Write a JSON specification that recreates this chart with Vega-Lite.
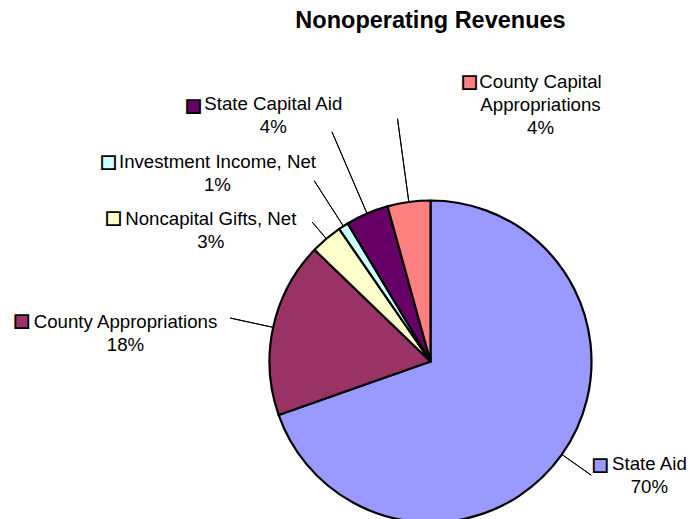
{
  "$schema": "https://vega.github.io/schema/vega-lite/v6.json",
  "autosize": "none",
  "width": 517,
  "height": 315,
  "padding": {"left": 172, "top": 204, "right": 0, "bottom": 0},
  "background": "white",
  "config": {"view": {"stroke": null}},
  "title": {
    "text": "Nonoperating Revenues",
    "font": "Liberation Sans",
    "fontSize": 23.5,
    "fontWeight": "bold",
    "color": "#000000",
    "anchor": "middle",
    "frame": "group",
    "offset": 40
  },
  "data": {
    "values": [
      {"name": "State Aid", "value": 69.6, "order": 1},
      {"name": "County Appropriations", "value": 17.6, "order": 2},
      {"name": "Noncapital Gifts, Net", "value": 3.2, "order": 3},
      {"name": "Investment Income, Net", "value": 1.0, "order": 4},
      {"name": "State Capital Aid", "value": 4.3, "order": 5},
      {"name": "County Capital Appropriations", "value": 4.3, "order": 6}
    ]
  },
  "transform": [
    {"stack": "value", "groupby": [], "sort": [{"field": "order", "order": "ascending"}], "as": ["v0", "v1"]},
    {"joinaggregate": [{"op": "sum", "field": "value", "as": "total"}]},
    {"calculate": "(datum.v0 + datum.v1) / 2", "as": "vm"},
    {"calculate": "format(datum.value / datum.total, '.0%')", "as": "pct"},
    {"calculate": "datum.order == 6 ? replace(datum.name, ' Appropriations', '\\nAppropriations') + '\\n' + datum.pct : datum.name + '\\n' + datum.pct", "as": "label"}
  ],
  "layer": [
    {
      "mark": {"type": "arc", "radius": 161, "stroke": "#000000", "strokeWidth": 2.2, "strokeJoin": "round"},
      "encoding": {
        "theta": {"field": "v0", "type": "quantitative", "stack": false, "scale": {"domain": [0, 100], "range": [0, 6.283185307179586]}},
        "theta2": {"field": "v1"},
        "color": {
          "field": "name", "type": "nominal", "legend": null,
          "scale": {
            "domain": ["State Aid", "County Appropriations", "Noncapital Gifts, Net", "Investment Income, Net", "State Capital Aid", "County Capital Appropriations"],
            "range": ["#9999FF", "#993366", "#FFFFCC", "#CCFFFF", "#660066", "#FF8080"]
          }
        }
      }
    },
    {
      "transform": [{"filter": "datum.order == 1"}],
      "layer": [
        {"mark": {"type": "arc", "radius": 197, "radius2": 161, "stroke": "#000000", "strokeWidth": 1, "fillOpacity": 0},
         "encoding": {"theta": {"field": "vm", "type": "quantitative", "stack": false}, "theta2": {"field": "vm"}}},
        {"mark": {"type": "text", "text": "■", "radius": 197, "dx": 8.6, "dy": -10.2, "font": "DejaVu Sans", "fontSize": 17, "stroke": "#000000", "strokeWidth": 1.8, "align": "center", "baseline": "middle"},
         "encoding": {"theta": {"field": "vm", "type": "quantitative", "stack": false}, "color": {"field": "name", "type": "nominal", "legend": null}}},
        {"mark": {"type": "text", "radius": 197, "dx": 58.1, "dy": -5.2, "font": "Liberation Sans", "fontSize": 18.67, "lineHeight": 23, "lineBreak": "\n", "align": "center", "baseline": "alphabetic", "color": "#000000"},
         "encoding": {"theta": {"field": "vm", "type": "quantitative", "stack": false}, "text": {"field": "label", "type": "nominal"}}}
      ]
    },
    {
      "transform": [{"filter": "datum.order == 2"}],
      "layer": [
        {"mark": {"type": "arc", "radius": 205, "radius2": 161, "stroke": "#000000", "strokeWidth": 1, "fillOpacity": 0},
         "encoding": {"theta": {"field": "vm", "type": "quantitative", "stack": false}, "theta2": {"field": "vm"}}},
        {"mark": {"type": "text", "text": "■", "radius": 205, "dx": -208.7, "dy": 3.0, "font": "DejaVu Sans", "fontSize": 17, "stroke": "#000000", "strokeWidth": 1.8, "align": "center", "baseline": "middle"},
         "encoding": {"theta": {"field": "vm", "type": "quantitative", "stack": false}, "color": {"field": "name", "type": "nominal", "legend": null}}},
        {"mark": {"type": "text", "radius": 205, "dx": -104.7, "dy": 9.5, "font": "Liberation Sans", "fontSize": 18.67, "lineHeight": 23, "lineBreak": "\n", "align": "center", "baseline": "alphabetic", "color": "#000000"},
         "encoding": {"theta": {"field": "vm", "type": "quantitative", "stack": false}, "text": {"field": "label", "type": "nominal"}}}
      ]
    },
    {
      "transform": [{"filter": "datum.order == 3"}],
      "layer": [
        {"mark": {"type": "arc", "radius": 183, "radius2": 161, "stroke": "#000000", "strokeWidth": 1, "fillOpacity": 0},
         "encoding": {"theta": {"field": "vm", "type": "quantitative", "stack": false}, "theta2": {"field": "vm"}}},
        {"mark": {"type": "text", "text": "■", "radius": 183, "dx": -198.8, "dy": -3.7, "font": "DejaVu Sans", "fontSize": 17, "stroke": "#000000", "strokeWidth": 1.8, "align": "center", "baseline": "middle"},
         "encoding": {"theta": {"field": "vm", "type": "quantitative", "stack": false}, "color": {"field": "name", "type": "nominal", "legend": null}}},
        {"mark": {"type": "text", "radius": 183, "dx": -101.3, "dy": 3.0, "font": "Liberation Sans", "fontSize": 18.67, "lineHeight": 23, "lineBreak": "\n", "align": "center", "baseline": "alphabetic", "color": "#000000"},
         "encoding": {"theta": {"field": "vm", "type": "quantitative", "stack": false}, "text": {"field": "label", "type": "nominal"}}}
      ]
    },
    {
      "transform": [{"filter": "datum.order == 4"}],
      "layer": [
        {"mark": {"type": "arc", "radius": 215, "radius2": 161, "stroke": "#000000", "strokeWidth": 1, "fillOpacity": 0},
         "encoding": {"theta": {"field": "vm", "type": "quantitative", "stack": false}, "theta2": {"field": "vm"}}},
        {"mark": {"type": "text", "text": "■", "radius": 215, "dx": -205.9, "dy": -19.0, "font": "DejaVu Sans", "fontSize": 17, "stroke": "#000000", "strokeWidth": 1.8, "align": "center", "baseline": "middle"},
         "encoding": {"theta": {"field": "vm", "type": "quantitative", "stack": false}, "color": {"field": "name", "type": "nominal", "legend": null}}},
        {"mark": {"type": "text", "radius": 215, "dx": -96.7, "dy": -12.4, "font": "Liberation Sans", "fontSize": 18.67, "lineHeight": 23, "lineBreak": "\n", "align": "center", "baseline": "alphabetic", "color": "#000000"},
         "encoding": {"theta": {"field": "vm", "type": "quantitative", "stack": false}, "text": {"field": "label", "type": "nominal"}}}
      ]
    },
    {
      "transform": [{"filter": "datum.order == 5"}],
      "layer": [
        {"mark": {"type": "arc", "radius": 250, "radius2": 161, "stroke": "#000000", "strokeWidth": 1, "fillOpacity": 0},
         "encoding": {"theta": {"field": "vm", "type": "quantitative", "stack": false}, "theta2": {"field": "vm"}}},
        {"mark": {"type": "text", "text": "■", "radius": 250, "dx": -138.6, "dy": -26.2, "font": "DejaVu Sans", "fontSize": 17, "stroke": "#000000", "strokeWidth": 1.8, "align": "center", "baseline": "middle"},
         "encoding": {"theta": {"field": "vm", "type": "quantitative", "stack": false}, "color": {"field": "name", "type": "nominal", "legend": null}}},
        {"mark": {"type": "text", "radius": 250, "dx": -58.6, "dy": -21.7, "font": "Liberation Sans", "fontSize": 18.67, "lineHeight": 23, "lineBreak": "\n", "align": "center", "baseline": "alphabetic", "color": "#000000"},
         "encoding": {"theta": {"field": "vm", "type": "quantitative", "stack": false}, "text": {"field": "label", "type": "nominal"}}}
      ]
    },
    {
      "transform": [{"filter": "datum.order == 6"}],
      "layer": [
        {"mark": {"type": "arc", "radius": 245, "radius2": 161, "stroke": "#000000", "strokeWidth": 1, "fillOpacity": 0},
         "encoding": {"theta": {"field": "vm", "type": "quantitative", "stack": false}, "theta2": {"field": "vm"}}},
        {"mark": {"type": "text", "text": "■", "radius": 245, "dx": 71.8, "dy": -37.0, "font": "DejaVu Sans", "fontSize": 17, "stroke": "#000000", "strokeWidth": 1.8, "align": "center", "baseline": "middle"},
         "encoding": {"theta": {"field": "vm", "type": "quantitative", "stack": false}, "color": {"field": "name", "type": "nominal", "legend": null}}},
        {"mark": {"type": "text", "radius": 245, "dx": 143.0, "dy": -30.4, "font": "Liberation Sans", "fontSize": 18.67, "lineHeight": 23, "lineBreak": "\n", "align": "center", "baseline": "alphabetic", "color": "#000000"},
         "encoding": {"theta": {"field": "vm", "type": "quantitative", "stack": false}, "text": {"field": "label", "type": "nominal"}}}
      ]
    }
  ]
}
